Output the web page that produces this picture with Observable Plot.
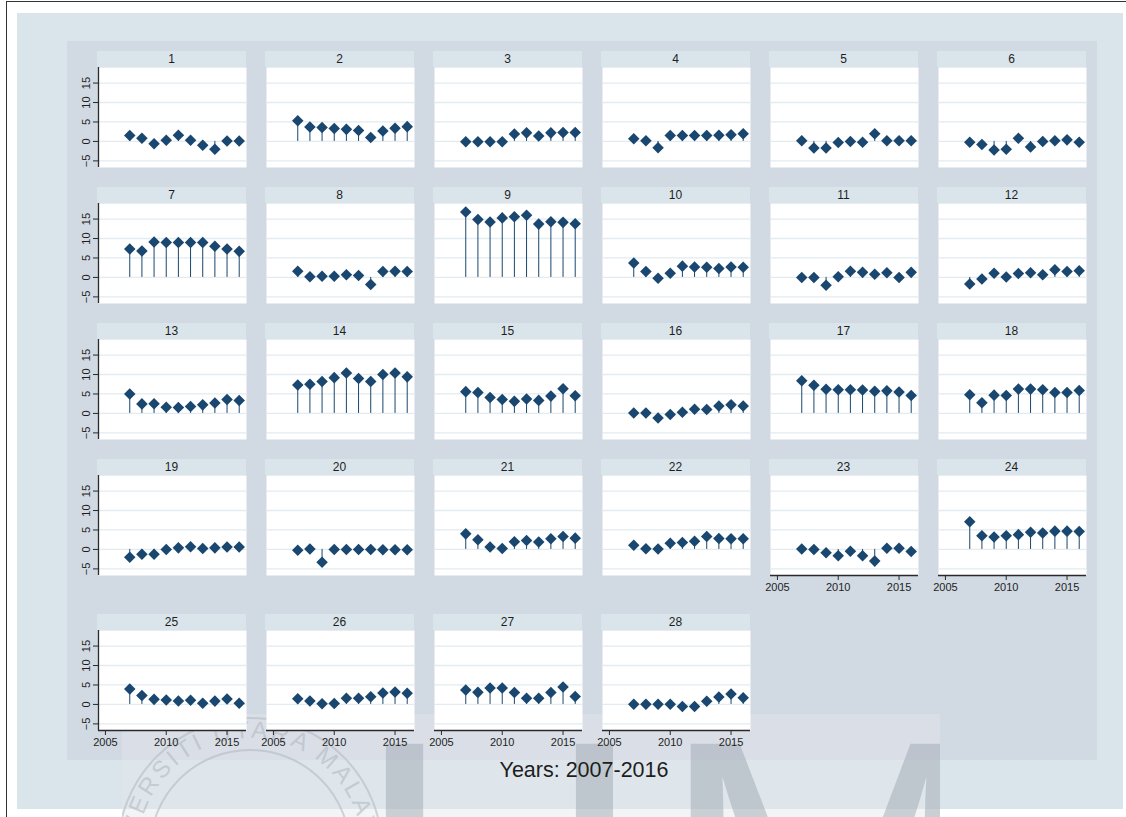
<!DOCTYPE html>
<html>
<head>
<meta charset="utf-8">
<script src="https://cdn.jsdelivr.net/npm/d3@7"></script>
<script src="https://cdn.jsdelivr.net/npm/@observablehq/plot@0.6"></script>
<style>
  body { margin: 0; background: #ffffff; font-family: "Liberation Sans", Arial, sans-serif; }
  #page { position: relative; width: 1126px; height: 817px; overflow: hidden; background: #ffffff; }
  .abs { position: absolute; }
  .strip { position: absolute; background: #dae5eb; color: #1e1e1e; font-size: 12px; line-height: 16px; text-align: center; }
  .panel svg { display: block; overflow: visible; }
</style>
</head>
<body>
<div id="page"></div>
<script>
// Years on the x axis of every panel
const years = [2007, 2008, 2009, 2010, 2011, 2012, 2013, 2014, 2015, 2016];

// One series per panel (values for 2007..2016)
const panel1  = [1.5, 0.8, -0.6, 0.3, 1.6, 0.3, -1.0, -2.0, 0.1, 0.1];
const panel2  = [5.3, 3.7, 3.6, 3.3, 3.1, 2.8, 1.0, 2.7, 3.4, 3.8];
const panel3  = [-0.1, -0.1, -0.1, -0.1, 1.9, 2.2, 1.4, 2.2, 2.3, 2.3];
const panel4  = [0.7, 0.2, -1.6, 1.5, 1.5, 1.5, 1.5, 1.6, 1.7, 2.0];
const panel5  = [0.2, -1.7, -1.7, -0.3, 0.0, -0.2, 2.0, 0.2, 0.2, 0.2];
const panel6  = [-0.2, -0.8, -2.2, -2.0, 0.8, -1.4, 0.0, 0.2, 0.4, -0.2];
const panel7  = [7.3, 6.8, 9.1, 9.0, 9.0, 9.0, 9.0, 8.0, 7.3, 6.7];
const panel8  = [1.6, 0.2, 0.3, 0.3, 0.7, 0.5, -1.8, 1.5, 1.6, 1.5];
const panel9  = [16.8, 14.9, 14.25, 15.3, 15.6, 16.0, 13.7, 14.3, 14.15, 13.8];
const panel10 = [3.7, 1.5, -0.2, 1.1, 2.9, 2.7, 2.6, 2.3, 2.7, 2.6];
const panel11 = [0.0, 0.0, -2.0, 0.2, 1.6, 1.3, 0.8, 1.2, 0.0, 1.3];
const panel12 = [-1.7, -0.4, 1.1, 0.1, 1.0, 1.2, 0.7, 2.0, 1.5, 1.7];
const panel13 = [5.0, 2.45, 2.5, 1.6, 1.5, 1.8, 2.2, 2.7, 3.6, 3.3];
const panel14 = [7.3, 7.5, 8.2, 9.2, 10.4, 9.0, 8.2, 10.0, 10.4, 9.4];
const panel15 = [5.6, 5.4, 4.1, 3.6, 3.1, 3.7, 3.35, 4.45, 6.35, 4.55];
const panel16 = [0.1, 0.1, -1.2, -0.3, 0.3, 1.1, 1.0, 1.9, 2.2, 1.9];
const panel17 = [8.4, 7.25, 6.2, 6.1, 6.1, 6.0, 5.7, 5.8, 5.5, 4.6];
const panel18 = [4.8, 2.75, 4.7, 4.6, 6.25, 6.25, 6.1, 5.4, 5.4, 5.9];
const panel19 = [-2.0, -1.25, -1.25, 0.0, 0.4, 0.7, 0.25, 0.4, 0.6, 0.6];
const panel20 = [-0.2, 0.1, -3.3, 0.0, 0.0, 0.0, 0.0, -0.1, -0.1, -0.1];
const panel21 = [4.0, 2.5, 0.6, 0.25, 2.0, 2.3, 1.9, 2.75, 3.3, 2.9];
const panel22 = [1.1, 0.2, 0.1, 1.6, 1.8, 2.1, 3.3, 2.8, 2.75, 2.75];
const panel23 = [0.1, 0.0, -0.85, -1.6, -0.45, -1.6, -3.0, 0.3, 0.3, -0.55];
const panel24 = [7.1, 3.5, 3.2, 3.5, 3.8, 4.4, 4.2, 4.7, 4.7, 4.6];
const panel25 = [3.95, 2.3, 1.3, 1.15, 0.9, 1.1, 0.3, 0.85, 1.4, 0.3];
const panel26 = [1.45, 0.9, 0.15, 0.25, 1.6, 1.6, 2.0, 2.95, 3.2, 2.85];
const panel27 = [3.7, 3.1, 4.2, 4.2, 3.05, 1.6, 1.6, 3.05, 4.5, 2.05];
const panel28 = [0.05, 0.05, 0.05, 0.05, -0.55, -0.55, 0.8, 1.9, 2.7, 1.7];

// Axis ticks and labels
const yTicks = [-5, 0, 5, 10, 15];
const xTicks = [2005, 2010, 2015];
const xTitle = "Years: 2007-2016";

const allPanels = [panel1, panel2, panel3, panel4, panel5, panel6, panel7, panel8, panel9, panel10,
  panel11, panel12, panel13, panel14, panel15, panel16, panel17, panel18, panel19, panel20,
  panel21, panel22, panel23, panel24, panel25, panel26, panel27, panel28];

// ---- layout ----
const page = document.getElementById("page");
const navy = "#1a476f";
const axisColor = "#2a2a2a";
const gridColor = "#e2ebef";
const FONT = '"Liberation Sans", Arial, sans-serif';
const NCOL = 6;
const PW = 148, PH = 100, HEAD = 16;
const colLeft = c => 98 + 168 * c;
const rowTop = [51, 187, 323, 459, 614];
const xDomain = [2004.43, 2016.6];
const yDomain = [-6.7, 19];

function box(left, top, width, height, bg) {
  const d = document.createElement("div");
  d.className = "abs";
  Object.assign(d.style, {left: left + "px", top: top + "px", width: width + "px", height: height + "px", background: bg});
  page.appendChild(d);
  return d;
}

// frame lines, outer region and plot region
box(6, 1, 1120, 1, "#333");
box(6, 1, 1, 816, "#333");
box(17, 13, 1106, 796, "#dae5eb");
box(67, 41, 1030, 719, "#d1d9e3");

// faint seal watermark along the bottom edge
const ns = "http://www.w3.org/2000/svg";
const wm = document.createElementNS(ns, "svg");
wm.setAttribute("width", 1126); wm.setAttribute("height", 817);
wm.style.position = "absolute"; wm.style.left = "0px"; wm.style.top = "0px";
wm.innerHTML = `
  <defs>
    <clipPath id="wmclip"><rect x="122" y="714" width="818" height="103"/></clipPath>
    <path id="sealpath" d="M250,962 A112,112 0 1 1 250,738 A112,112 0 1 1 250,962"/>
  </defs>
  <g clip-path="url(#wmclip)">
    <rect x="122" y="714" width="818" height="103" fill="#e4e6ea" opacity="0.45"/>
    <circle cx="250" cy="850" r="132" fill="none" stroke="#aeb6bf" stroke-width="2" opacity="0.55"/>
    <circle cx="250" cy="850" r="100" fill="none" stroke="#aeb6bf" stroke-width="2" opacity="0.55"/>
    <text font-family="${FONT}" font-size="24" fill="#aeb6bf" opacity="0.55" letter-spacing="3">
      <textPath href="#sealpath" startOffset="50%" text-anchor="middle">UNIVERSITI UTARA MALAYSIA</textPath>
    </text>
    <text x="355" y="1019" font-family="${FONT}" font-size="400" letter-spacing="14" fill="#9aa3ad" opacity="0.45">UM</text>
  </g>`;
page.appendChild(wm);

// x-axis title
const title = document.createElement("div");
title.className = "abs";
Object.assign(title.style, {left: "384px", width: "400px", top: "760px", textAlign: "center",
  fontSize: "21.5px", lineHeight: "21.5px", color: "#1e1e1e", fontFamily: FONT});
title.textContent = xTitle;
page.appendChild(title);

// panels
allPanels.forEach((vals, i) => {
  const id = i + 1;
  const r = Math.floor(i / NCOL), c = i % NCOL;
  const showY = c === 0;
  const showX = id + NCOL > allPanels.length; // nothing drawn below this panel
  const ml = showY ? 40 : 0;
  const mb = showX ? 26 : 0;
  const data = years.map((year, k) => ({year, value: vals[k]}));

  const strip = document.createElement("div");
  strip.className = "strip";
  Object.assign(strip.style, {left: (colLeft(c) - 1) + "px", top: rowTop[r] + "px", width: (PW + 1) + "px", height: HEAD + "px"});
  strip.textContent = String(id);
  page.appendChild(strip);

  const chart = Plot.plot({
    width: PW + ml,
    height: PH + mb,
    marginLeft: ml, marginRight: 0, marginTop: 0, marginBottom: mb,
    style: {background: "transparent", fontFamily: FONT, fontSize: "11px", color: "#1e1e1e", overflow: "visible"},
    x: {domain: xDomain, axis: showX ? undefined : null},
    y: {domain: yDomain, axis: showY ? undefined : null},
    marks: [
      Plot.frame({fill: "white", stroke: "none"}),
      Plot.gridY(yTicks, {stroke: gridColor, strokeOpacity: 1, strokeWidth: 1.3}),
      Plot.ruleX(data, {x: "year", y1: () => 0, y2: "value", stroke: navy, strokeWidth: 1}),
      Plot.dot(data, {x: "year", y: "value", symbol: "diamond2", r: 5.2, fill: navy}),
      showY ? Plot.ruleX([xDomain[0]], {stroke: axisColor, strokeWidth: 1.3}) : null,
      showY ? Plot.axisY(yTicks, {tickSize: 5, tickRotate: -90, label: null, stroke: axisColor, fontSize: 11}) : null,
      showX ? Plot.ruleY([yDomain[0]], {stroke: axisColor, strokeWidth: 1.3}) : null,
      showX ? Plot.axisX(xTicks, {tickSize: 5, tickPadding: 3, tickFormat: d => String(d), label: null, stroke: axisColor, fontSize: 11}) : null
    ]
  });
  const holder = document.createElement("div");
  holder.className = "abs panel";
  holder.style.left = (colLeft(c) - ml) + "px";
  holder.style.top = (rowTop[r] + HEAD) + "px";
  holder.appendChild(chart);
  page.appendChild(holder);
});
</script>
</body>
</html>
